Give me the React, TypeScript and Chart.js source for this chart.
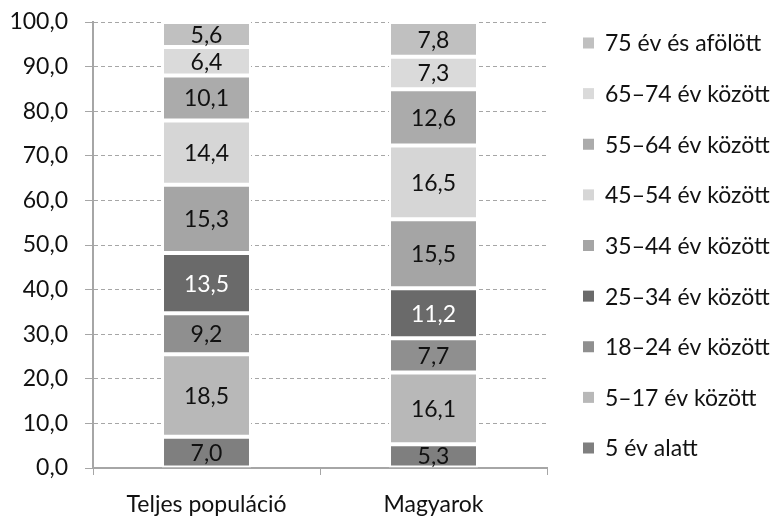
import React, { useEffect, useRef } from "react";
import { Chart, registerables } from "chart.js";

Chart.register(...registerables);

const categories = ["Teljes populáció", "Magyarok"];
const seriesNames = [
  "5 év alatt",
  "5–17 év között",
  "18–24 év között",
  "25–34 év között",
  "35–44 év között",
  "45–54 év között",
  "55–64 év között",
  "65–74 év között",
  "75 év és afölött",
];
const teljes = [7.0, 18.5, 9.2, 13.5, 15.3, 14.4, 10.1, 6.4, 5.6];
const magyarok = [5.3, 16.1, 7.7, 11.2, 15.5, 16.5, 12.6, 7.3, 7.8];
const seriesColors = [
  "#7f7f7f",
  "#b8b8b8",
  "#8f8f8f",
  "#6a6a6a",
  "#a5a5a5",
  "#d6d6d6",
  "#ababab",
  "#dadada",
  "#c0c0c0",
];
const labelColors = ["#111", "#111", "#111", "#fff", "#111", "#111", "#111", "#111", "#111"];
const yTicks = [0, 10, 20, 30, 40, 50, 60, 70, 80, 90, 100];

const FONT = "Lato, 'Open Sans', sans-serif";
const FS = 23;
const fmt = (v: number) => v.toFixed(1).replace(".", ",");

const valueLabels = {
  id: "valueLabels",
  afterDatasetsDraw(chart: any) {
    const ctx = chart.ctx;
    ctx.save();
    ctx.font = `${FS}px ${FONT}`;
    ctx.textAlign = "center";
    ctx.textBaseline = "middle";
    chart.data.datasets.forEach((ds: any, i: number) => {
      const meta = chart.getDatasetMeta(i);
      meta.data.forEach((bar: any, j: number) => {
        const v = ds.data[j];
        ctx.fillStyle = labelColors[i];
        ctx.fillText(fmt(v), bar.x, (bar.y + bar.base) / 2 + 1);
      });
    });
    ctx.restore();
  },
};

const sideLegend = {
  id: "sideLegend",
  afterDraw(chart: any) {
    const ctx = chart.ctx;
    const area = chart.chartArea;
    const n = chart.data.datasets.length;
    const step = (area.bottom - area.top - 41) / (n - 1);
    ctx.save();
    ctx.font = `${FS}px ${FONT}`;
    ctx.textAlign = "left";
    ctx.textBaseline = "middle";
    for (let k = 0; k < n; k++) {
      const i = n - 1 - k;
      const ds = chart.data.datasets[i];
      const y = area.top + 21 + k * step;
      ctx.fillStyle = ds.backgroundColor;
      ctx.fillRect(area.right + 36, y - 5.5, 11, 11);
      ctx.fillStyle = "#111";
      ctx.fillText(ds.label, area.right + 58, y + 1);
    }
    ctx.restore();
  },
};

export default function App() {
  const ref = useRef<HTMLCanvasElement>(null);
  useEffect(() => {
    if (!ref.current) return;
    const series = seriesNames.map((name, i) => ({
      label: name,
      data: [teljes[i], magyarok[i]],
      backgroundColor: seriesColors[i],
      borderColor: "#ffffff",
      borderWidth: 2,
      borderSkipped: false,
      categoryPercentage: 1,
      barPercentage: 0.392,
    }));
    const chart = new Chart(ref.current, {
      type: "bar",
      data: { labels: categories, datasets: series },
      options: {
        animation: false,
        responsive: false,
        maintainAspectRatio: false,
        layout: { padding: { top: 22, right: 233, bottom: 9, left: 0 } },
        plugins: { legend: { display: false }, tooltip: { enabled: false } },
        scales: {
          x: {
            stacked: true,
            afterFit: (scale: any) => {
              scale.height = 50;
              scale.paddingLeft = 0;
              scale.paddingRight = 0;
            },
            grid: { display: true, drawOnChartArea: false, drawTicks: true, tickLength: 7, color: "#a6a6a6", offset: true },
            border: { display: true, color: "#a6a6a6", width: 2 },
            ticks: { color: "#111", font: { family: FONT, size: FS }, padding: 16 },
          },
          y: {
            stacked: true,
            min: 0,
            max: 100,
            afterBuildTicks: (scale: any) => {
              scale.ticks = yTicks.map((v) => ({ value: v }));
            },
            afterFit: (scale: any) => {
              scale.width = 93;
              scale.paddingTop = 0;
              scale.paddingBottom = 0;
            },
            grid: { color: "#a6a6a6", tickLength: 8, tickColor: "#a6a6a6", lineWidth: 1, tickBorderDash: [] },
            border: { display: true, color: "#a6a6a6", width: 2, dash: [4, 3] },
            ticks: {
              color: "#111",
              font: { family: FONT, size: FS },
              padding: 17,
              callback: (v: any) => fmt(Number(v)),
            },
          },
        },
      },
      plugins: [valueLabels, sideLegend],
    });
    return () => chart.destroy();
  }, []);
  return (
    <div style={{ position: "fixed", left: 0, top: 0, width: 780, height: 527, background: "#fff" }}>
      <canvas ref={ref} width={780} height={527} />
    </div>
  );
}
